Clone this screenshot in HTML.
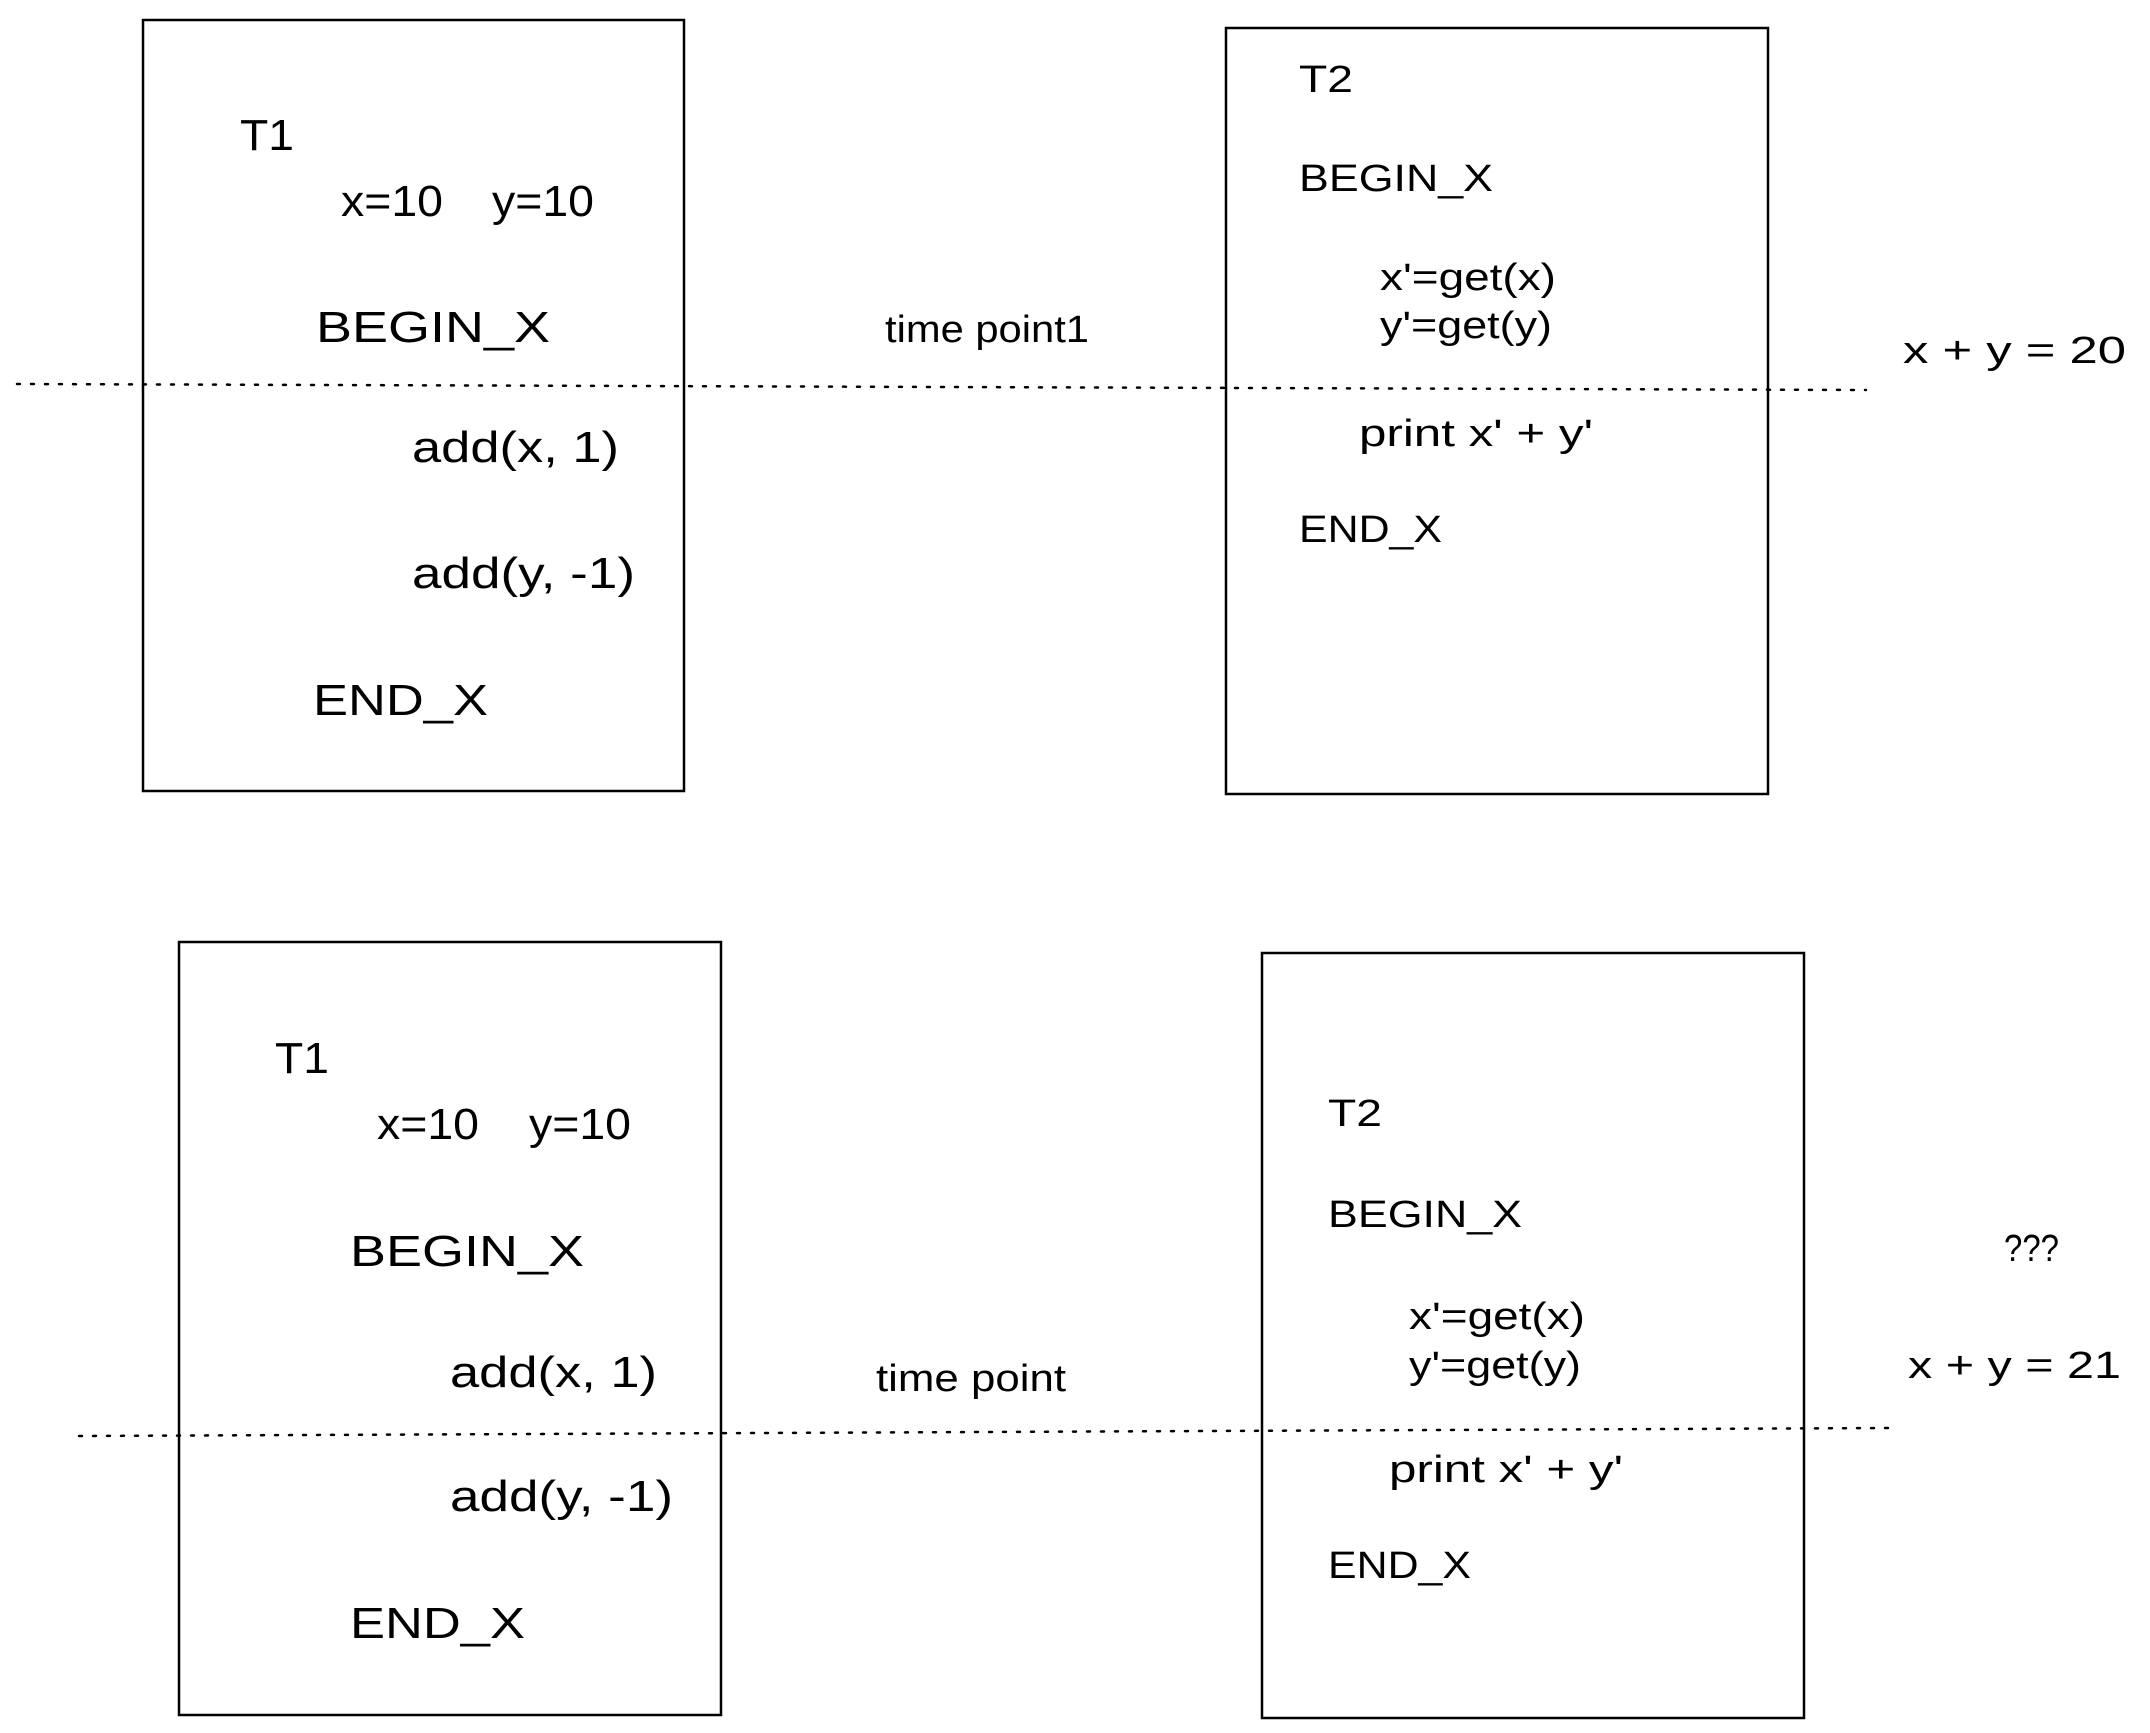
<!DOCTYPE html>
<html><head><meta charset="utf-8"><style>
html,body{margin:0;padding:0;background:#fff;}
svg{display:block;}
text{font-family:"Liberation Sans",sans-serif;fill:#000;}
</style></head><body>
<svg width="2150" height="1733" viewBox="0 0 2150 1733" xmlns="http://www.w3.org/2000/svg">
<g fill="none" stroke="#000" stroke-width="2.5">
<rect x="143" y="20" width="541" height="771"/>
<rect x="1226" y="28" width="542" height="766"/>
<rect x="179" y="942" width="542" height="773"/>
<rect x="1262" y="953" width="542" height="765"/>
</g>
<g stroke="#000" stroke-width="2.5" stroke-dasharray="3 11" stroke-linecap="round">
<line x1="17" y1="384" x2="1866" y2="390"/>
<line x1="79" y1="1436" x2="1893" y2="1428"/>
</g>
<g font-size="44">
<text x="240" y="150" textLength="54" lengthAdjust="spacingAndGlyphs">T1</text>
<text x="341" y="216" textLength="102" lengthAdjust="spacingAndGlyphs">x=10</text>
<text x="492" y="216" textLength="102" lengthAdjust="spacingAndGlyphs">y=10</text>
<text x="316" y="342" textLength="234" lengthAdjust="spacingAndGlyphs">BEGIN_X</text>
<text x="412" y="462" textLength="207" lengthAdjust="spacingAndGlyphs">add(x, 1)</text>
<text x="412" y="588" textLength="223" lengthAdjust="spacingAndGlyphs">add(y, -1)</text>
<text x="313" y="715" textLength="175" lengthAdjust="spacingAndGlyphs">END_X</text>

<text x="275" y="1073" textLength="54" lengthAdjust="spacingAndGlyphs">T1</text>
<text x="377" y="1139" textLength="102" lengthAdjust="spacingAndGlyphs">x=10</text>
<text x="529" y="1139" textLength="102" lengthAdjust="spacingAndGlyphs">y=10</text>
<text x="350" y="1266" textLength="234" lengthAdjust="spacingAndGlyphs">BEGIN_X</text>
<text x="450" y="1387" textLength="207" lengthAdjust="spacingAndGlyphs">add(x, 1)</text>
<text x="450" y="1511" textLength="223" lengthAdjust="spacingAndGlyphs">add(y, -1)</text>
<text x="350" y="1638" textLength="175" lengthAdjust="spacingAndGlyphs">END_X</text>
</g>
<g font-size="38">
<text x="885" y="342" textLength="204" lengthAdjust="spacingAndGlyphs">time point1</text>
<text x="876" y="1391" textLength="190" lengthAdjust="spacingAndGlyphs">time point</text>

<text x="1299" y="92" textLength="54" lengthAdjust="spacingAndGlyphs">T2</text>
<text x="1299" y="191" textLength="194" lengthAdjust="spacingAndGlyphs">BEGIN_X</text>
<text x="1380" y="290" textLength="176" lengthAdjust="spacingAndGlyphs">x'=get(x)</text>
<text x="1380" y="338" textLength="172" lengthAdjust="spacingAndGlyphs">y'=get(y)</text>
<text x="1359" y="446" textLength="234" lengthAdjust="spacingAndGlyphs">print x' + y'</text>
<text x="1299" y="542" textLength="143" lengthAdjust="spacingAndGlyphs">END_X</text>
<text x="1903" y="363" textLength="223" lengthAdjust="spacingAndGlyphs">x + y = 20</text>

<text x="1328" y="1126" textLength="54" lengthAdjust="spacingAndGlyphs">T2</text>
<text x="1328" y="1227" textLength="194" lengthAdjust="spacingAndGlyphs">BEGIN_X</text>
<text x="1409" y="1329" textLength="176" lengthAdjust="spacingAndGlyphs">x'=get(x)</text>
<text x="1409" y="1378" textLength="172" lengthAdjust="spacingAndGlyphs">y'=get(y)</text>
<text x="1389" y="1482" textLength="234" lengthAdjust="spacingAndGlyphs">print x' + y'</text>
<text x="1328" y="1578" textLength="143" lengthAdjust="spacingAndGlyphs">END_X</text>
<text x="2004" y="1261" textLength="55" lengthAdjust="spacingAndGlyphs">???</text>
<text x="1908" y="1378" textLength="213" lengthAdjust="spacingAndGlyphs">x + y = 21</text>
</g>
</svg>
</body></html>
